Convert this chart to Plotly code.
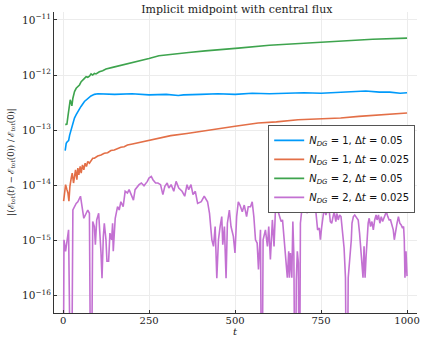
import plotly.graph_objects as go

# ---------------- data (log10 of relative energy error) ----------------
# N_DG = 1, dt = 0.05
t_blue = [6, 9, 12, 16, 19, 24, 28, 33, 38, 43, 52, 62, 72, 81, 91, 101, 150, 200, 250, 300,
          335, 350, 400, 450, 500, 550, 600, 650, 700, 750, 800, 850, 880, 920, 950, 980, 1000]
e_blue = [-13.37, -13.24, -13.21, -13.19, -13.09, -12.96, -12.87, -12.78, -12.72, -12.66, -12.57,
          -12.48, -12.42, -12.38, -12.35, -12.34, -12.35, -12.34, -12.36, -12.35, -12.37, -12.36,
          -12.35, -12.34, -12.35, -12.33, -12.34, -12.33, -12.32, -12.33, -12.31, -12.30, -12.29,
          -12.31, -12.31, -12.33, -12.32]

# N_DG = 1, dt = 0.025
t_red = [1.5, 4.4, 7.2, 11.1, 14.0, 16.9, 19.8, 23.6, 26.5, 30.3, 33.2, 36.1, 40.0, 42.8, 45.7,
         49.6, 52.5, 56.3, 60.2, 64.0, 67.9, 71.7, 76.5, 81.3, 86.1, 90.9, 100.6, 110.2, 119.8,
         129.4, 139.0, 148.7, 158.3, 167.9, 177.5, 187.1, 201.6, 250, 313, 360, 400, 450, 500,
         567, 620, 683, 750, 807, 860, 900, 950, 1000]
e_red = [-14.29, -14.05, -13.99, -14.08, -14.14, -14.29, -14.02, -13.87, -13.78, -13.96, -13.87,
         -13.72, -13.90, -13.69, -13.81, -13.66, -13.78, -13.63, -13.72, -13.60, -13.66, -13.57,
         -13.60, -13.54, -13.51, -13.51, -13.47, -13.45, -13.42, -13.41, -13.37, -13.36, -13.33,
         -13.31, -13.30, -13.27, -13.25, -13.18, -13.10, -13.06, -13.02, -12.97, -12.93, -12.87,
         -12.85, -12.81, -12.80, -12.78, -12.75, -12.73, -12.71, -12.69]

# N_DG = 2, dt = 0.05
t_green = [6.3, 11.1, 14.0, 16.9, 20.7, 23.6, 25.5, 28.4, 33.2, 38.0, 42.8, 47.6, 52.5, 57.3,
           62.1, 66.9, 71.7, 76.5, 81.3, 86.1, 90.9, 95.7, 105.4, 115.0, 124.6, 143.8, 172.7,
           192.0, 220.8, 249.7, 278.5, 317.0, 365.1, 413.2, 461.3, 509.4, 600, 700, 750, 800,
           900, 1000]
e_green = [-12.90, -12.89, -12.75, -12.63, -12.45, -12.51, -12.56, -12.42, -12.30, -12.24,
           -12.21, -12.18, -12.12, -12.08, -12.06, -12.03, -12.04, -12.02, -11.98, -12.00,
           -11.97, -11.98, -11.94, -11.92, -11.89, -11.86, -11.82, -11.79, -11.74, -11.70,
           -11.65, -11.62, -11.59, -11.56, -11.53, -11.51, -11.46, -11.42, -11.40, -11.38,
           -11.35, -11.33]

# N_DG = 2, dt = 0.025  (None = exactly zero error)
t_purple = [0, 2.5, 7.2, 15.9, 23.6, 28.4, 38.0, 42.8, 50.5, 60.2, 71.7, 76.5, 81.3, 86.1, 90.9,
            93.8, 97.7, 103.4, 110.2, 113.1, 116.9, 119.8, 124.6, 127.5, 132.3, 136.1, 141.0,
            143.9, 145.8, 151.5, 158.3, 163.1, 167.9, 174.6, 180.4, 187.1, 191.9, 198.7, 204.5,
            209.3, 216.0, 220.8, 227.5, 235.2, 244.9, 249.7, 256.4, 261.2, 268.9, 275.6, 283.3,
            290.1, 295.8, 302.6, 307.4, 314.1, 321.8, 328.5, 336.3, 345.9, 353.6, 360.3, 365.1,
            371.8, 377.6, 384.4, 391.1, 401.7, 410.3, 420.0, 425.7, 432.5, 437.3, 442.1, 446.9,
            451.7, 456.5, 461.3, 464.2, 469.0, 473.8, 477.7, 483.4, 488.2, 495.0, 499.8, 504.6,
            509.4, 514.2, 521.0, 526.7, 533.5, 538.3, 545.0, 549.8, 554.6, 559.4, 564.2, 568.1,
            573.9, 577.7, 581.5, 588.3, 594.1, 597.9, 602.7, 608.5, 613.3, 618.1, 625, 630, 634,
            638, 641, 644, 649, 652, 656, 658, 661, 665, 668, 671, 675, 678, 681, 684, 687, 690,
            694, 697, 700, 704, 707, 709, 713, 717, 721, 726, 731, 734, 737, 740, 745, 748, 752,
            756, 759, 764, 769, 774, 777, 781, 785, 788, 793, 796, 800, 804, 808, 812, 817, 821,
            825, 829, 833, 836, 838, 840, 844, 848, 852, 855, 858, 862, 865, 869, 872, 875, 878,
            881, 884, 887, 890, 894, 898, 902, 906, 910, 913, 917, 921, 925, 929, 933, 937, 940,
            944, 948, 952, 956, 960, 963, 967, 971, 975, 979, 983, 987, 990, 992, 994, 997, 1000]
e_purple = [None, -14.99, -15.20, -14.81, None, -14.45, -14.33, -14.30, -14.20, -14.60, -14.45,
            -14.51, None, -14.66, -14.75, -15.08, -14.63, -14.51, -15.23, -15.69, -14.93, -14.69,
            -14.99, -15.38, -15.38, -14.87, -14.99, -14.69, -15.20, -14.60, -14.39, -14.45,
            -14.30, -14.39, -14.11, -14.14, -14.08, -14.17, -14.27, -14.08, -14.02, -13.99,
            -13.96, -14.01, -13.93, -13.87, -13.84, -13.90, -13.96, -13.96, -13.99, -14.17,
            -14.02, -13.96, -14.05, -13.99, -14.11, -13.93, -14.05, -14.11, -14.20, -13.99,
            -14.08, -13.99, -14.17, -14.11, -14.33, -14.30, -14.20, -14.30, -14.51, -14.99,
            -15.11, -14.75, -15.69, -14.99, -14.75, -14.57, -15.08, -14.75, -15.69, -14.69,
            -14.45, -14.75, -14.93, -15.23, -14.57, -14.30, -14.36, -14.48, -14.36, -14.57,
            -14.39, -14.39, -14.30, -14.57, -14.99, -15.05, -15.53, -14.81, None, -14.99, -14.81,
            -15.11, -14.75, -15.35, -14.63, -15.11, -14.33, -14.48, -14.54, -14.66, -14.63,
            -14.84, -15.17, -15.38, -15.68, -15.20, -15.68, -15.23, -15.68, -14.66, -15.29, None,
            -15.72, -15.20, -15.41, None, -14.69, -14.45, -14.36, -14.48, -14.39, -14.33, -14.51,
            -14.42, -14.48, -14.36, -14.30, -14.33, -14.42, -14.60, -14.81, -14.78, -14.99,
            -14.75, -14.48, -14.42, -14.54, -14.45, -14.48, -14.66, -14.69, -14.57, -14.48,
            -14.66, -14.51, -14.63, -14.54, -14.57, -14.81, -15.14, -15.68, None, -15.68, -15.38,
            -15.20, -14.99, -14.69, -14.57, -14.54, -14.57, -14.60, -14.63, -14.87, -15.11,
            -15.35, -15.68, -15.11, -15.68, -15.29, -14.93, -14.69, -14.60, -14.75, -14.66,
            -14.81, -14.63, -14.54, -14.63, -14.54, -14.69, -14.57, -14.66, -14.60, -14.54,
            -14.48, -14.57, -14.63, -14.63, -14.75, -14.81, -14.99, -14.81, -14.69, -14.57,
            -14.69, -14.72, -14.78, -14.75, -14.99, -15.68, -15.20, -15.65]

series_names = ["<i>N</i><sub><i>DG</i></sub> = 1, Δ<i>t</i> = 0.05",
                "<i>N</i><sub><i>DG</i></sub> = 1, Δ<i>t</i> = 0.025",
                "<i>N</i><sub><i>DG</i></sub> = 2, Δ<i>t</i> = 0.05",
                "<i>N</i><sub><i>DG</i></sub> = 2, Δ<i>t</i> = 0.025"]
colors = ["#009AFA", "#E36F47", "#3EA44E", "#C371D2"]

x_ticks = [0, 250, 500, 750, 1000]
y_tick_exps = [-11, -12, -13, -14, -15, -16]

ZERO_FLOOR = 1e-19  # exact zeros drawn off the bottom of the log axis


def to_vals(exps):
    return [10 ** e if e is not None else ZERO_FLOOR for e in exps]


fig = go.Figure()
for t, e, name, c in zip([t_blue, t_red, t_green, t_purple],
                         [e_blue, e_red, e_green, e_purple], series_names, colors):
    fig.add_trace(go.Scatter(x=t, y=to_vals(e), mode="lines", name=name,
                             line=dict(color=c, width=1.6)))

serif = "DejaVu Serif"
fig.update_layout(
    width=423, height=338,
    margin=dict(l=54, r=3, t=12, b=25),
    paper_bgcolor="white", plot_bgcolor="white",
    title=dict(text="Implicit midpoint with central flux", x=0.56, xanchor="center",
               y=0.985, yanchor="top", font=dict(family=serif, size=11, color="#222")),
    showlegend=True,
    legend=dict(x=0.995, y=0.625, xanchor="right", yanchor="top",
                bgcolor="white", bordercolor="#555", borderwidth=1,
                font=dict(family="DejaVu Sans", size=10, color="#111"),
                itemwidth=30, tracegroupgap=0),
    xaxis=dict(range=[-26.5, 1029], tickvals=x_ticks, ticktext=[str(v) for v in x_ticks],
               showgrid=True, gridcolor="#ececec", gridwidth=0.8, zeroline=False,
               showline=True, linecolor="#333", linewidth=1,
               ticks="inside", ticklen=3, tickcolor="#333", ticklabeloverflow="allow",
               ticklabelstandoff=-2,
               tickfont=dict(family=serif, size=10, color="#222")),
    yaxis=dict(type="log", range=[-16.32, -10.855],
               tickvals=[10 ** e for e in y_tick_exps],
               ticktext=["10<sup>−%d</sup>" % (-e) for e in y_tick_exps],
               showgrid=True, gridcolor="#ececec", gridwidth=0.8, zeroline=False,
               showline=True, linecolor="#333", linewidth=1,
               ticks="inside", ticklen=3, tickcolor="#333",
               tickfont=dict(family=serif, size=10.5, color="#222")),
)

fig.add_annotation(
    text="<i>t</i>", xref="paper", yref="paper", x=0.5, y=-0.0815,
    xanchor="center", yanchor="bottom", showarrow=False, borderpad=0,
    font=dict(family=serif, size=10, color="#222"))

fig.add_annotation(
    text="|(ℰ<sub>tot</sub>(<i>t</i>) − ℰ<sub>tot</sub>(0)) / ℰ<sub>tot</sub>(0)|",
    xref="paper", yref="paper", x=-0.118, y=0.5, xanchor="center", yanchor="middle",
    textangle=-90, showarrow=False, font=dict(family=serif, size=8.5, color="#222"))

fig.write_html("out.html", post_script="document.body.style.margin='0';",
               config={"displayModeBar": False})
